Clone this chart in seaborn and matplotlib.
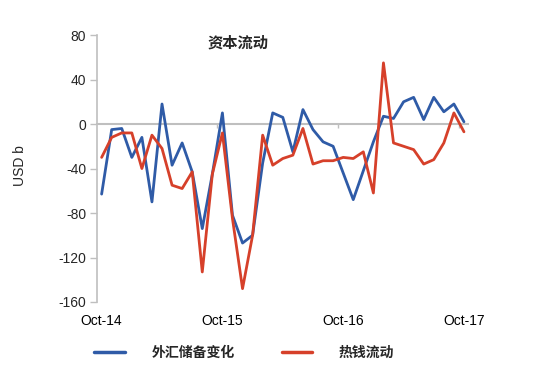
import pandas as pd
import matplotlib.pyplot as plt
import seaborn as sns

# 月度数据 Oct-14 ~ Oct-17 (USD b)
months = pd.date_range('2014-10-01', '2017-10-01', freq='MS')
fx_reserve_change = [-63, -5, -4, -30, -12, -70, 18, -37, -17, -43,
                     -94, -45, 10, -82, -107, -100, -35, 10, 6, -25,
                     13, -5, -16, -20, -44, -68, -42, -16, 7, 5,
                     20, 24, 4, 24, 11, 18, 2]
hot_money_flow = [-30, -12, -8, -8, -40, -10, -22, -55, -58, -43,
                  -133, -45, -8, -85, -148, -100, -10, -37, -31, -28,
                  -4, -36, -33, -33, -30, -31, -25, -62, 55, -17,
                  -20, -23, -36, -32, -17, 10, -7]
tick_labels = ['Oct-14', 'Oct-15', 'Oct-16', 'Oct-17']
yticks = [80, 40, 0, -40, -80, -120, -160]

series_names = ['外汇储备变化', '热钱流动']
colors = ['#2F5BA7', '#D6402A']

df = pd.DataFrame({'idx': range(len(months)),
                   series_names[0]: fx_reserve_change,
                   series_names[1]: hot_money_flow})
df_long = df.melt(id_vars='idx', var_name='series', value_name='value')

sns.set_style('white')
plt.rcParams['font.family'] = ['Liberation Sans', 'Noto Sans CJK SC', 'DejaVu Sans']
plt.rcParams['axes.unicode_minus'] = False

fig = plt.figure(figsize=(5.37, 3.69), dpi=100)
ax = fig.add_axes([0.181, 0.1816, 0.6905, 0.7234])

sns.lineplot(data=df_long, x='idx', y='value', hue='series', hue_order=series_names,
             palette=colors, linewidth=2.0, ax=ax, legend=False)

ax.set_xlim(-0.44, 36.4)
ax.set_ylim(-160, 80)
ax.set_yticks(yticks)
ax.set_xticks([0, 12, 24, 36])
ax.set_xticklabels(tick_labels)
ax.tick_params(axis='x', length=0, pad=9, labelsize=10, colors='black')
ax.tick_params(axis='y', length=5, width=1, color='#BFBFBF', labelsize=10, pad=3, direction='out')
ax.yaxis.set_ticks_position('left')

for s in ['top', 'right', 'bottom']:
    ax.spines[s].set_visible(False)
ax.spines['left'].set_color('#BFBFBF')
ax.spines['left'].set_linewidth(1.2)

# 零轴（带分类刻度）
zero_axis = ax.secondary_xaxis(160 / 240)
zero_axis.xaxis.set_ticks_position('bottom')
zero_axis.set_xticks([11.5, 23.5, 35.5])
zero_axis.set_xticklabels([])
zero_axis.tick_params(length=3, width=1, color='#BFBFBF', direction='out')
for s in ['top', 'bottom']:
    zero_axis.spines[s].set_color('#BFBFBF')
    zero_axis.spines[s].set_linewidth(1.5)
for s in ['left', 'right']:
    zero_axis.spines[s].set_visible(False)

ax.set_xlabel('')
ax.set_ylabel('USD b', fontsize=10)
ax.yaxis.set_label_coords(-0.19, 0.51)

ax.text(0.38, 0.972, '资本流动', transform=ax.transAxes, ha='center', va='center',
        fontsize=11, fontweight='bold', family=['Noto Sans CJK SC'])

handles = [plt.Line2D([], [], color=c, linewidth=2.5) for c in colors]
fig.legend(handles, series_names, loc='center', bbox_to_anchor=(0.455, 0.045), ncol=2,
           frameon=False, handlelength=2.2, handletextpad=1.9, columnspacing=3.4,
           prop={'family': 'Noto Sans CJK SC', 'weight': 'bold', 'size': 10})

fig.savefig('out.png', dpi=100)
